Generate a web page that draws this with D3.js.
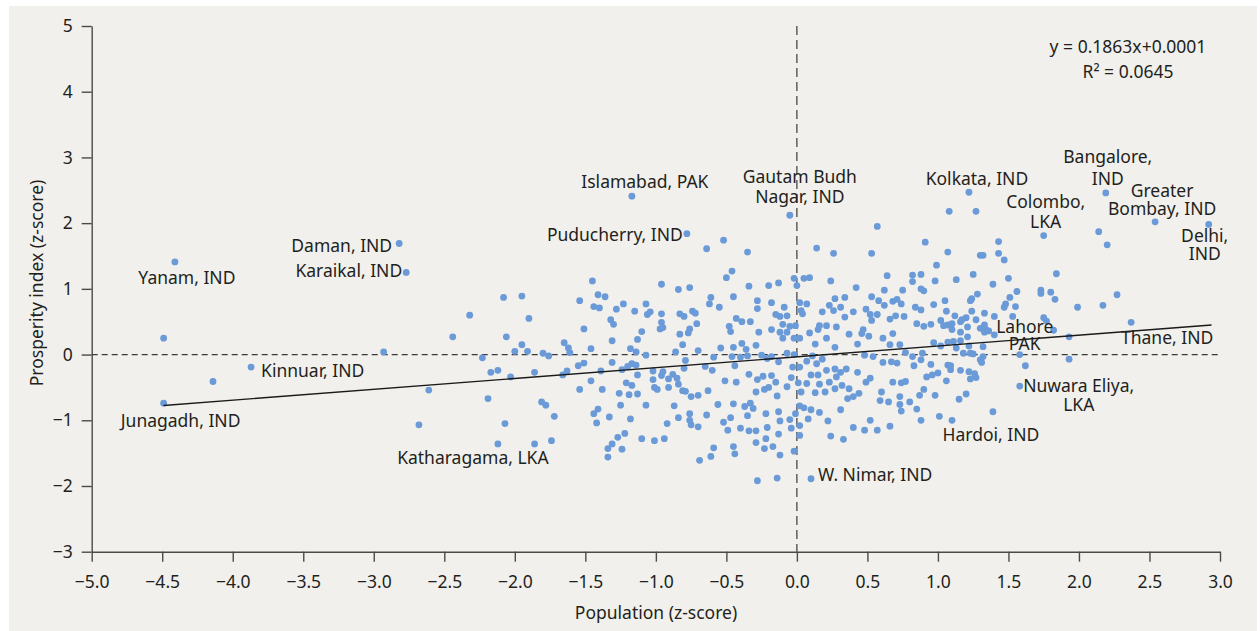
<!DOCTYPE html>
<html>
<head>
<meta charset="utf-8">
<script src="https://cdn.jsdelivr.net/npm/d3@7"></script>
<style>
  body { margin: 0; background: #fff; }
  text { font-family: "Noto Sans", sans-serif; fill: #231f20; }
</style>
</head>
<body>
<div id="chart"></div>
<script>
var width = 1260;
var height = 631;

// tick values of both axes
var xTicks = [-5, -4.5, -4, -3.5, -3, -2.5, -2, -1.5, -1, -0.5, 0, 0.5, 1, 1.5, 2, 2.5, 3];
var yTicks = [-3, -2, -1, 0, 1, 2, 3, 4, 5];

// fitted line as drawn, read at its two ends
var trendX = [-4.49, 2.94];
var trendY = [-0.775, 0.45];

var equation = ["y = 0.1863x+0.0001", "R\u00b2 = 0.0645"];

// named districts
var labeled = [
  {name: ["Yanam, IND"], x: -4.41, y: 1.41},
  {name: ["Junagadh, IND"], x: -4.49, y: -0.74},
  {name: ["Kinnuar, IND"], x: -3.87, y: -0.19},
  {name: ["Daman, IND"], x: -2.82, y: 1.69},
  {name: ["Karaikal, IND"], x: -2.77, y: 1.25},
  {name: ["Katharagama, LKA"], x: -2.12, y: -1.36},
  {name: ["Islamabad, PAK"], x: -1.17, y: 2.41},
  {name: ["Puducherry, IND"], x: -0.78, y: 1.84},
  {name: ["Gautam Budh", "Nagar, IND"], x: -0.05, y: 2.12},
  {name: ["Kolkata, IND"], x: 1.22, y: 2.47},
  {name: ["Colombo,", "LKA"], x: 1.75, y: 1.81},
  {name: ["Bangalore,", "IND"], x: 2.19, y: 2.46},
  {name: ["Greater", "Bombay, IND"], x: 2.54, y: 2.02},
  {name: ["Delhi,", "IND"], x: 2.92, y: 1.98},
  {name: ["Lahore", "PAK"], x: 1.58, y: 0.0},
  {name: ["Thane, IND"], x: 2.37, y: 0.49},
  {name: ["Nuwara Eliya,", "LKA"], x: 1.58, y: -0.48},
  {name: ["Hardoi, IND"], x: 1.39, y: -0.87},
  {name: ["W. Nimar, IND"], x: 0.10, y: -1.89}
];

// other districts [population z, prosperity z]
var points = [
  [-4.49,0.25],[-4.14,-0.41],[-2.93,0.04],[-2.68,-1.07],[-2.61,-0.54],
  [1.08,2.18],[1.27,2.18],[2.14,1.87],[2.20,1.67],[2.17,0.75],[2.27,0.91],[1.99,0.72],[1.93,0.27],[1.93,-0.07],
  [-2.32,0.60],[-2.44,0.27],[-2.08,0.87],[-1.95,0.89],[-1.90,0.55],[-2.06,0.27],[-2.23,-0.05],[-2.17,-0.27],[-2.12,-0.24],[-2.03,-0.34],
  [-2.19,-0.67],[-2.07,-1.05],[-1.86,-1.36],[-1.74,-1.31],[-2.00,0.05],[-1.95,0.15],[-1.91,0.05],[-1.86,-0.27],[-1.80,0.02],[-1.76,-0.02],
  [-1.81,-0.72],[-1.78,-0.77],[-1.72,-0.94],[-1.65,0.18],[-1.62,0.10],[-1.61,0.03],[-1.66,-0.31],[-1.63,-0.25],[-1.54,0.82],[-1.51,0.39],
  [-1.55,-0.17],[-1.51,-0.13],[-1.54,-0.53],[-1.45,1.12],[-1.41,0.91],[-1.36,0.88],[-1.44,0.73],[-1.40,0.71],[-1.46,0.09],[-1.39,-0.25],
  [-1.46,-0.40],[-1.38,-0.53],[-1.41,-0.83],[-1.44,-0.90],[-1.42,-1.04],[-1.33,-0.95],[-1.28,0.69],[-1.23,0.77],[-1.32,0.53],[-1.30,0.46],
  [-1.31,0.21],[-1.31,-0.12],[-1.24,-0.23],[-1.26,-0.59],[-1.21,-0.43],[-1.17,-0.47],[-1.19,-0.61],[-1.13,-0.60],[-1.25,-0.77],[-1.18,-0.98],
  [-1.22,-1.20],[-1.27,-1.26],[-1.31,-1.36],[-1.34,-1.43],[-1.24,-1.44],[-1.34,-1.56],[-1.15,0.66],[-1.07,0.77],[-1.06,0.61],[-1.04,0.65],
  [-1.10,0.35],[-1.13,0.23],[-1.18,0.09],[-1.14,0.04],[-1.07,-0.01],[-1.17,-0.14],[-1.14,-0.16],[-1.13,-0.31],[-1.20,-0.18],[-1.07,-0.77],
  [-1.10,-1.28],[-1.01,-1.31],[-0.94,-1.28],[-0.96,1.07],[-0.84,0.99],[-0.76,1.02],[-0.96,0.62],[-0.96,0.49],[-0.97,0.39],[-0.95,0.41],
  [-0.83,0.62],[-0.80,0.58],[-0.74,0.66],[-0.72,0.63],[-0.71,0.47],[-0.77,0.33],[-0.76,0.39],[-0.83,0.31],[-0.81,0.15],[-0.86,0.04],
  [-0.79,-0.09],[-0.80,-0.21],[-1.02,-0.25],[-1.02,-0.38],[-0.95,-0.26],[-0.96,-0.32],[-0.91,-0.37],[-0.88,-0.30],[-0.85,-0.36],[-0.84,-0.45],
  [-0.91,-0.50],[-1.01,-0.50],[-0.99,-0.53],[-0.81,-0.55],[-0.79,-0.56],[-0.75,-0.64],[-0.87,-0.78],[-0.84,-0.96],[-0.92,-1.05],[-0.76,-0.90],
  [-0.76,-1.00],[-0.75,-1.07],[-0.70,-0.62],[-0.70,0.06],[-0.70,-1.10],[-0.69,-1.61],
  [-0.52,1.74],[-0.64,1.61],[-0.35,1.56],[0.14,1.62],[0.26,1.54],[0.53,1.54],[0.57,1.95],[0.91,1.71],[1.07,1.56],[-0.46,1.27],
  [-0.50,1.17],[-0.34,1.04],[-0.20,1.05],[-0.13,1.09],[-0.02,1.16],[0.00,1.05],[0.05,1.16],[0.09,1.17],[0.24,1.12],[0.42,1.02],
  [0.64,1.20],[0.82,1.11],[0.82,1.21],[0.88,1.22],[0.98,1.12],[0.99,1.36],[0.62,0.98],[0.75,0.98],[0.88,1.00],[0.90,0.97],
  [0.53,0.88],[0.58,0.82],[0.62,0.75],[0.68,0.81],[0.71,0.84],[0.74,0.77],[0.84,0.72],[0.88,0.68],[0.97,0.76],[1.05,0.82],
  [-0.61,0.87],[-0.62,0.77],[-0.55,0.72],[-0.45,0.88],[-0.28,0.82],[-0.28,0.70],[-0.18,0.79],[-0.09,0.72],[0.02,0.79],[0.03,0.67],
  [0.07,0.77],[0.04,0.62],[0.18,0.65],[0.23,0.75],[0.27,0.85],[0.34,0.87],[0.26,0.67],[0.31,0.72],[0.34,0.57],[0.40,0.65],
  [0.49,0.69],[0.52,0.61],[0.57,0.61],[0.53,0.52],[0.66,0.54],[0.70,0.59],[0.76,0.58],[0.85,0.47],[0.90,0.43],[0.95,0.46],
  [1.02,0.52],[1.04,0.44],[1.07,0.45],[-0.43,0.55],[-0.39,0.50],[-0.48,0.43],[-0.47,0.35],[-0.33,0.50],[-0.27,0.34],[-0.15,0.61],
  [-0.12,0.58],[-0.07,0.59],[-0.18,0.38],[-0.12,0.34],[-0.07,0.34],[-0.10,0.46],[-0.05,0.43],[-0.01,0.44],[0.02,0.25],[-0.02,0.25],
  [-0.10,0.25],[0.09,0.33],[0.15,0.38],[0.13,0.16],[0.21,0.25],[0.27,0.11],[0.16,0.44],[0.21,0.44],[0.28,0.42],[0.37,0.31],
  [0.46,0.32],[0.47,0.38],[0.51,0.28],[0.43,0.16],[0.61,0.25],[0.68,0.32],[0.66,0.15],[0.73,0.15],[0.77,0.03],[0.82,-0.03],
  [0.89,0.02],[0.97,0.18],[1.02,0.13],[1.07,0.19],[-0.54,0.10],[-0.45,0.11],[-0.39,0.17],[-0.36,0.08],[-0.29,0.14],[-0.59,-0.04],
  [-0.65,-0.18],[-0.60,-0.24],[-0.46,-0.03],[-0.44,-0.17],[-0.40,-0.04],[-0.35,-0.02],[-0.25,-0.01],[-0.21,-0.06],[-0.18,-0.03],[-0.13,-0.11],
  [-0.07,0.02],[-0.02,0.00],[-0.03,-0.19],[0.02,-0.19],[0.07,-0.10],[0.11,-0.02],[0.14,-0.14],[0.18,-0.07],[0.21,-0.24],[0.27,-0.22],
  [0.31,-0.27],[0.35,-0.22],[0.43,-0.27],[0.48,-0.01],[0.54,-0.03],[0.61,-0.12],[0.67,-0.11],[0.71,-0.13],[0.83,-0.17],[0.88,-0.08],
  [0.95,-0.15],[1.07,-0.16],[-0.63,-0.55],[-0.51,-0.40],[-0.43,-0.42],[-0.34,-0.30],[-0.28,-0.38],[-0.24,-0.33],[-0.18,-0.32],[-0.15,-0.42],
  [-0.29,-0.57],[-0.23,-0.53],[-0.20,-0.50],[-0.14,-0.63],[-0.07,-0.49],[-0.04,-0.35],[0.01,-0.43],[0.03,-0.57],[0.07,-0.44],[0.10,-0.31],
  [0.15,-0.31],[0.16,-0.45],[0.13,-0.58],[0.20,-0.57],[0.23,-0.42],[0.28,-0.34],[0.27,-0.52],[0.32,-0.47],[0.37,-0.52],[0.40,-0.64],
  [0.44,-0.59],[0.36,-0.67],[0.49,-0.42],[0.52,-0.36],[0.60,-0.57],[0.59,-0.70],[0.65,-0.72],[0.68,-0.42],[0.74,-0.43],[0.77,-0.41],
  [0.73,-0.64],[0.73,-0.76],[0.74,-0.86],[0.80,-0.72],[0.87,-0.62],[0.90,-0.53],[0.92,-0.34],[0.96,-0.31],[1.00,-0.28],[0.98,-0.62],
  [1.06,-0.40],[0.85,-0.83],[0.88,-1.00],[1.01,-0.94],[-0.64,-0.92],[-0.56,-0.76],[-0.45,-0.75],[-0.52,-1.03],[-0.47,-0.96],[-0.37,-0.79],
  [-0.33,-0.74],[-0.31,-0.82],[-0.35,-0.93],[-0.22,-0.90],[-0.13,-0.87],[-0.12,-1.01],[-0.05,-0.99],[-0.01,-0.90],[0.02,-0.78],[0.05,-0.81],
  [0.10,-0.84],[0.08,-0.98],[0.02,-1.08],[-0.04,-1.12],[-0.13,-1.21],[-0.21,-1.11],[-0.29,-1.16],[-0.34,-1.16],[-0.40,-1.12],[-0.49,-1.15],
  [0.16,-0.88],[0.22,-1.01],[0.31,-0.84],[0.40,-1.11],[0.48,-1.15],[0.52,-1.00],[0.57,-1.15],[0.66,-1.09],[0.24,-1.24],[0.33,-1.29],
  [0.02,-1.23],[-0.22,-1.28],[-0.29,-1.34],[-0.45,-1.40],[-0.44,-1.51],[-0.59,-1.42],[-0.61,-1.55],[-0.23,-1.43],[-0.17,-1.40],[-0.12,-1.53],
  [-0.02,-1.47],[-0.28,-1.92],[-0.14,-1.88],
  [1.43,1.72],[1.30,1.51],[1.32,1.51],[1.43,1.54],[1.47,1.44],[1.84,1.23],[1.25,1.22],[1.13,1.14],[1.39,1.07],[1.50,1.16],
  [1.56,0.96],[1.73,0.98],[1.73,0.93],[1.80,0.95],[1.83,0.84],[1.51,0.87],[1.48,0.77],[1.47,0.72],[1.55,0.73],[1.28,0.92],
  [1.24,0.85],[1.23,0.82],[1.06,0.66],[1.12,0.59],[1.24,0.66],[1.20,0.56],[1.33,0.63],[1.27,0.53],[1.40,0.58],[1.53,0.58],
  [1.75,0.56],[1.77,0.51],[1.82,0.37],[1.10,0.47],[1.10,0.38],[1.16,0.50],[1.17,0.53],[1.21,0.42],[1.16,0.34],[1.30,0.40],
  [1.33,0.45],[1.34,0.38],[1.33,0.34],[1.36,0.36],[1.40,0.30],[1.21,0.27],[1.11,0.20],[1.16,0.21],[1.13,0.10],[1.22,0.13],
  [1.32,0.12],[1.18,0.02],[1.23,0.02],[1.25,0.01],[1.32,-0.03],[1.31,-0.12],[1.30,-0.08],[1.62,-0.17],[1.09,-0.17],[1.09,-0.23],
  [1.16,-0.24],[1.22,-0.26],[1.26,-0.29],[1.23,-0.37],[1.27,-0.35],[1.20,-0.60],[1.15,-0.68],[1.10,-1.00]
];

// label placement, px from its dot: [dx, first baseline dy, anchor, line step]
var labelPos = {
  "Yanam, IND": [12, 22, "middle", 0],
  "Junagadh, IND": [17, 24, "middle", 0],
  "Kinnuar, IND": [10, 10, "start", 0],
  "Daman, IND": [-7, 8, "end", 0],
  "Karaikal, IND": [-4, 5, "end", 0],
  "Katharagama, LKA": [-25, 20, "middle", 0],
  "Islamabad, PAK": [13, -8, "middle", 0],
  "Puducherry, IND": [-4, 7, "end", 0],
  "Gautam Budh": [10, -32, "middle", 19.5],
  "Kolkata, IND": [8, -7, "middle", 0],
  "Colombo,": [2, -28, "middle", 20],
  "Bangalore,": [2, -30, "middle", 22],
  "Greater": [7, -25, "middle", 18.5],
  "Delhi,": [-4, 18, "middle", 18],
  "Lahore": [5, -22, "middle", 17.5],
  "Thane, IND": [36, 22, "middle", 0],
  "Nuwara Eliya,": [59, 6, "middle", 18.5],
  "Hardoi, IND": [-2, 29, "middle", 0],
  "W. Nimar, IND": [7, 2, "start", 0]
};

var svg = d3.select("#chart").append("svg")
  .attr("width", width)
  .attr("height", height);

svg.append("rect")
  .attr("x", 9).attr("y", 6)
  .attr("width", 1248).attr("height", 625)
  .attr("fill", "#f1f0ec");

var x = d3.scaleLinear().domain([-5, 3]).range([91.7, 1220]);
var y = d3.scaleLinear().domain([-3, 5]).range([551.7, 26]);

// zero reference lines
svg.append("line")
  .attr("x1", x(-5)).attr("x2", x(3))
  .attr("y1", y(0)).attr("y2", y(0))
  .attr("stroke", "#3a3a3a").attr("stroke-width", 1.2)
  .attr("stroke-dasharray", "6,4");
svg.append("line")
  .attr("x1", x(0)).attr("x2", x(0))
  .attr("y1", y(5)).attr("y2", y(-3))
  .attr("stroke", "#3a3a3a").attr("stroke-width", 1.2)
  .attr("stroke-dasharray", "9,5");

var xAxis = svg.append("g")
  .attr("transform", "translate(0," + y(-3) + ")")
  .call(d3.axisBottom(x).tickValues(xTicks).tickFormat(d3.format(".1f"))
    .tickSize(10).tickSizeOuter(0).tickPadding(14));
var yAxis = svg.append("g")
  .attr("transform", "translate(" + x(-5) + ",0)")
  .call(d3.axisLeft(y).tickValues(yTicks).tickFormat(d3.format("d"))
    .tickSize(10).tickSizeOuter(0).tickPadding(9));

[xAxis, yAxis].forEach(function(g){
  g.selectAll("path, line").attr("stroke", "#4a4a4a").attr("stroke-width", 1.4);
  g.selectAll("text").attr("font-size", 17.5).attr("fill", "#231f20")
    .style("font-family", "'Noto Sans', sans-serif");
});

svg.append("text")
  .attr("x", 656).attr("y", 619)
  .attr("text-anchor", "middle").attr("font-size", 17.5)
  .text("Population (z-score)");
svg.append("text")
  .attr("transform", "translate(43,283) rotate(-90)")
  .attr("text-anchor", "middle").attr("font-size", 17.5)
  .text("Prosperity index (z-score)");

// dots
var all = points.map(function(p){ return {x: p[0], y: p[1]}; }).concat(labeled);
svg.append("g").selectAll("circle")
  .data(all)
  .enter().append("circle")
  .attr("cx", function(d){ return x(d.x); })
  .attr("cy", function(d){ return y(d.y); })
  .attr("r", 3.4)
  .attr("fill", "#6a9ad7");

// fitted line
svg.append("line")
  .attr("x1", x(trendX[0])).attr("y1", y(trendY[0]))
  .attr("x2", x(trendX[1])).attr("y2", y(trendY[1]))
  .attr("stroke", "#1a1a1a").attr("stroke-width", 1.4);

// labels
labeled.forEach(function(d){
  var pos = labelPos[d.name[0]];
  var t = svg.append("text")
    .attr("text-anchor", pos[2])
    .attr("font-size", 17.5);
  d.name.forEach(function(line, i){
    t.append("tspan")
      .attr("x", x(d.x) + pos[0])
      .attr("y", y(d.y) + pos[1] + i * pos[3])
      .text(line);
  });
});

svg.selectAll(".eq")
  .data(equation)
  .enter().append("text")
  .attr("class", "eq")
  .attr("x", 1128)
  .attr("y", function(d, i){ return 53 + i * 25; })
  .attr("text-anchor", "middle")
  .attr("font-size", 17.5)
  .text(function(d){ return d; });
</script>
</body>
</html>
